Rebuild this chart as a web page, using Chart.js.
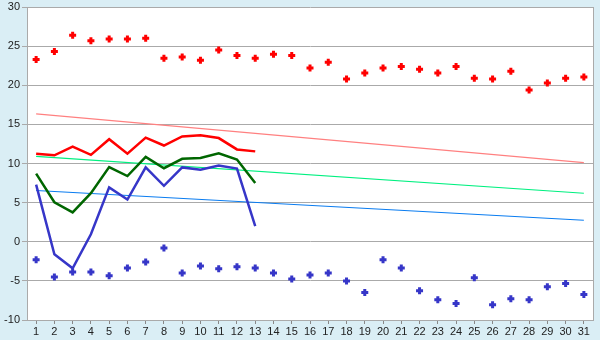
<!DOCTYPE html>
<html>
<head>
<meta charset="utf-8">
<script src="https://cdn.jsdelivr.net/npm/chart.js@4/dist/chart.umd.min.js"></script>
<style>
  body { margin: 0; background: #daeef5; }
  #wrap { width: 600px; height: 340px; }
</style>
</head>
<body>
<div id="wrap"><canvas id="tempChart" width="600" height="340"></canvas></div>
<script>
const days = ['1','2','3','4','5','6','7','8','9','10','11','12','13','14','15','16','17','18','19','20','21','22','23','24','25','26','27','28','29','30','31'];

// daily extremes (points)
const maxPoints = [23.3, 24.3, 26.4, 25.7, 25.9, 25.9, 26.0, 23.45, 23.6, 23.2, 24.5, 23.8, 23.45, 23.95, 23.8, 22.2, 22.95, 20.8, 21.55, 22.2, 22.4, 22.05, 21.55, 22.4, 20.9, 20.8, 21.8, 19.4, 20.3, 20.9, 21.05];
const minPoints = [-2.3, -4.5, -3.85, -3.85, -4.35, -3.35, -2.6, -0.8, -4.0, -3.1, -3.45, -3.2, -3.35, -4.0, -4.75, -4.25, -4.0, -5.0, -6.5, -2.3, -3.35, -6.25, -7.4, -7.9, -4.6, -8.05, -7.3, -7.4, -5.75, -5.35, -6.75];

// measured lines, days 1-13
const redLine = [11.25, 11.05, 12.15, 11.1, 13.1, 11.25, 13.3, 12.3, 13.45, 13.6, 13.25, 11.8, 11.55];
const greenLine = [8.7, 5.05, 3.75, 6.2, 9.55, 8.4, 10.85, 9.4, 10.6, 10.7, 11.3, 10.5, 7.5];
const blueLine = [7.3, -1.6, -3.4, 0.95, 6.95, 5.4, 9.5, 7.15, 9.5, 9.2, 9.75, 9.35, 2.0];

// normals: value at day 1 and day 31
const redNormal = [16.35, 10.1];
const greenNormal = [10.9, 6.2];
const blueNormal = [6.55, 2.75];

const yTicks = [-10, -5, 0, 5, 10, 15, 20, 25, 30];

function ends(arr) {
  return [{ x: days[0], y: arr[0] }, { x: days[days.length - 1], y: arr[1] }];
}

const plotBg = {
  id: 'plotBg',
  beforeDraw(chart) {
    const a = chart.chartArea;
    const c = chart.ctx;
    c.save();
    c.fillStyle = '#ffffff';
    c.fillRect(a.left, a.top, a.right - a.left, a.bottom - a.top);
    c.restore();
  },
  afterDraw(chart) {
    const a = chart.chartArea;
    const c = chart.ctx;
    c.save();
    c.strokeStyle = '#aaaaaa';
    c.lineWidth = 1;
    c.beginPath();
    c.moveTo(a.right + 0.5, a.top);
    c.lineTo(a.right + 0.5, a.bottom);
    c.stroke();
    c.restore();
  }
};

const ctx = document.getElementById('tempChart');

new Chart(ctx, {
  type: 'line',
  data: {
    labels: days,
    datasets: [
      { data: maxPoints, showLine: false, pointStyle: 'cross', pointRadius: 3.5, pointBorderWidth: 3, borderColor: '#ff0000', backgroundColor: '#ff0000' },
      { data: minPoints, showLine: false, pointStyle: 'cross', pointRadius: 3.5, pointBorderWidth: 3, borderColor: '#3636c8', backgroundColor: '#3636c8' },
      { data: redLine, borderColor: '#ff0000', borderWidth: 2.5, pointRadius: 0 },
      { data: greenLine, borderColor: '#006600', borderWidth: 2.5, pointRadius: 0 },
      { data: blueLine, borderColor: '#3636c8', borderWidth: 2.5, pointRadius: 0 },
      { data: ends(redNormal), borderColor: '#ff8080', borderWidth: 1.2, pointRadius: 0 },
      { data: ends(greenNormal), borderColor: '#00f080', borderWidth: 1.2, pointRadius: 0 },
      { data: ends(blueNormal), borderColor: '#0a7cf0', borderWidth: 1.2, pointRadius: 0 }
    ]
  },
  options: {
    responsive: false,
    animation: false,
    tension: 0,
    layout: { padding: { top: 5, right: 5, left: 0, bottom: 0 } },
    plugins: { legend: { display: false }, tooltip: { enabled: false } },
    scales: {
      x: {
        offset: true,
        grid: { drawOnChartArea: false, drawTicks: true, tickLength: 4, color: '#888888' },
        border: { color: '#aaaaaa' },
        ticks: { color: '#222222', font: { family: 'Liberation Sans', size: 11 }, padding: 1, maxRotation: 0, autoSkip: false },
        afterFit(s) { s.height = 20; s.paddingLeft = 0; s.paddingRight = 0; }
      },
      y: {
        min: -10,
        max: 30,
        afterBuildTicks(s) { s.ticks = yTicks.map(v => ({ value: v })); },
        grid: { color: '#aaaaaa', tickLength: 5 },
        border: { color: '#aaaaaa' },
        ticks: { color: '#222222', font: { family: 'Liberation Sans', size: 11 }, padding: 2 },
        afterFit(s) { s.width = 27; s.paddingTop = 0; s.paddingBottom = 0; }
      }
    }
  },
  plugins: [plotBg]
});
</script>
</body>
</html>
